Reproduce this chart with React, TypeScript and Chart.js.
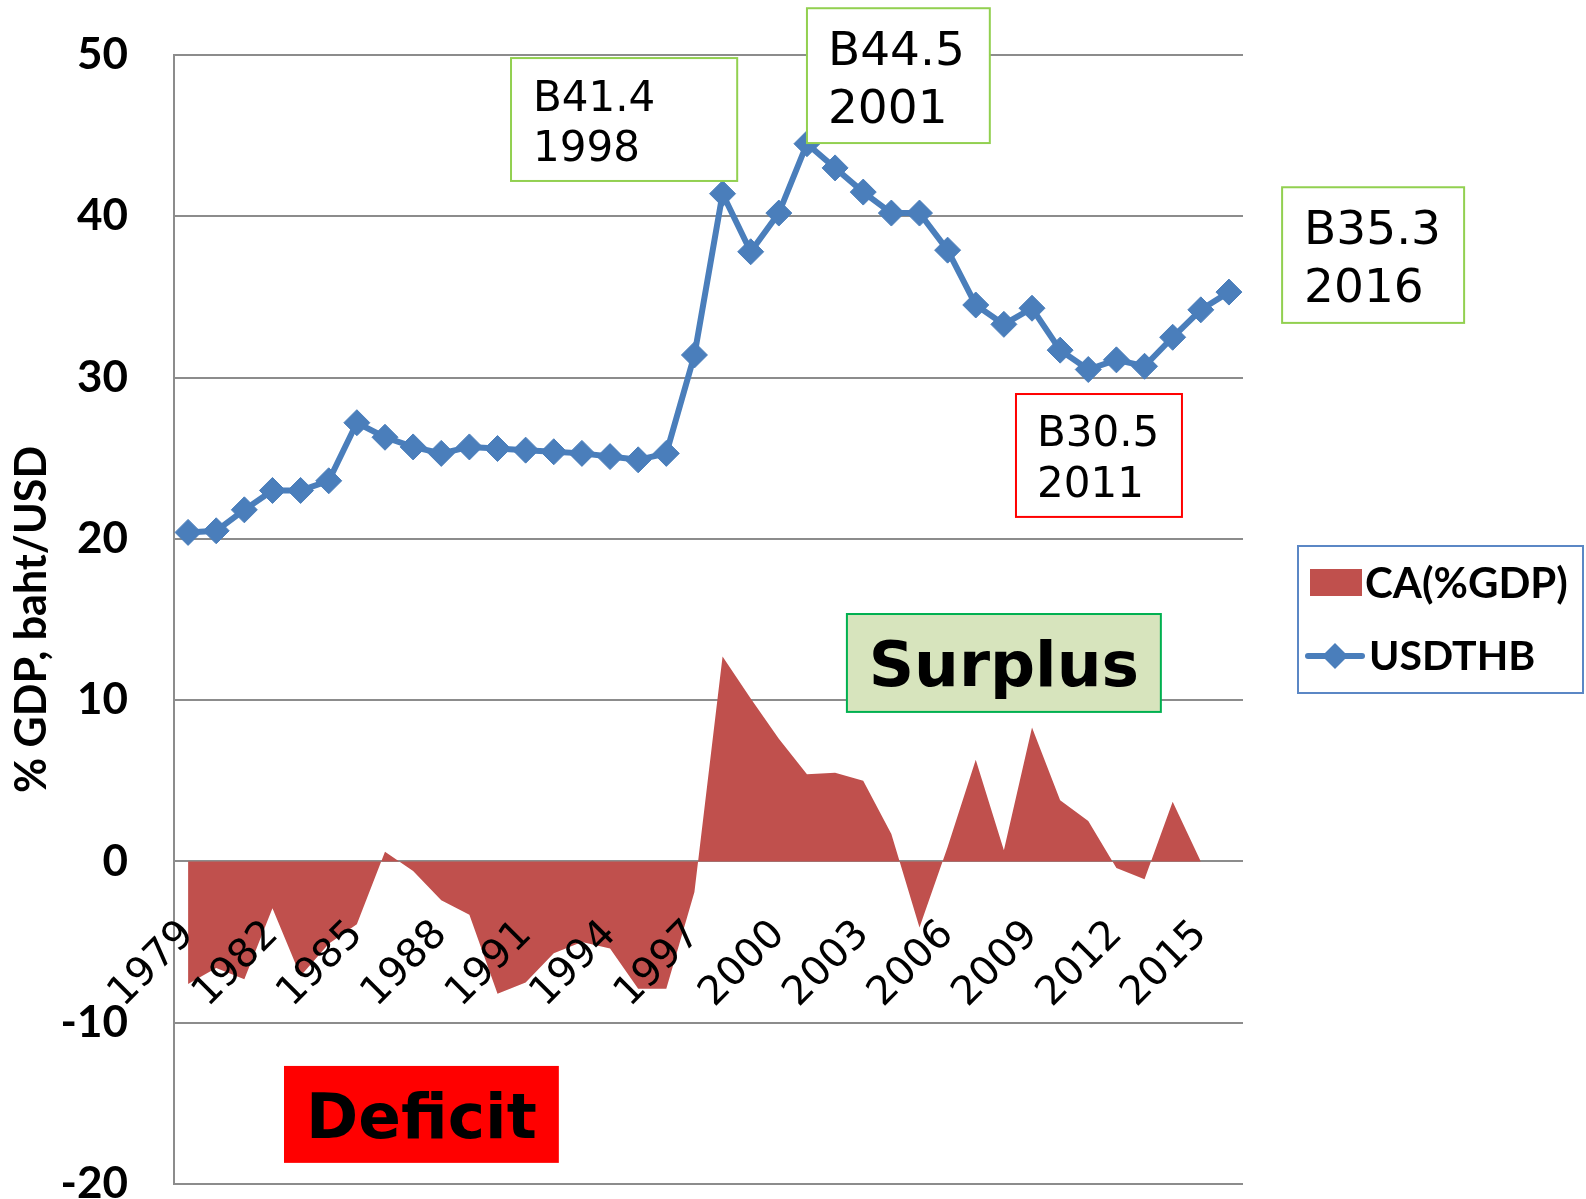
import React, { useEffect, useRef } from "react";
import { Chart, registerables } from "chart.js";

Chart.register(...registerables);

// ---------------- data ----------------
const years = [
  "1979", "1980", "1981", "1982", "1983", "1984", "1985", "1986", "1987", "1988",
  "1989", "1990", "1991", "1992", "1993", "1994", "1995", "1996", "1997", "1998",
  "1999", "2000", "2001", "2002", "2003", "2004", "2005", "2006", "2007", "2008",
  "2009", "2010", "2011", "2012", "2013", "2014", "2015", "2016",
];

const caPctGdp: (number | null)[] = [
  -7.6, -6.6, -7.3, -2.9, -7.1, -5.1, -3.9, 0.6, -0.6, -2.4,
  -3.3, -8.2, -7.5, -5.7, -5.0, -5.4, -7.9, -7.9, -1.9, 12.7,
  10.1, 7.6, 5.4, 5.5, 5.0, 1.7, -4.1, 0.9, 6.3, 0.7,
  8.3, 3.8, 2.5, -0.4, -1.1, 3.7, 0, null,
];

const usdThb: number[] = [
  20.4, 20.5, 21.8, 23.0, 23.0, 23.6, 27.2, 26.3, 25.7, 25.3,
  25.7, 25.6, 25.5, 25.4, 25.3, 25.1, 24.9, 25.3, 31.4, 41.4,
  37.8, 40.2, 44.5, 43.0, 41.5, 40.2, 40.2, 37.9, 34.5, 33.3,
  34.3, 31.7, 30.5, 31.1, 30.7, 32.5, 34.2, 35.3,
];

const seriesLabels = ["CA(%GDP)", "USDTHB"];
const yAxisTitle = "% GDP, baht/USD";
const yMin = -20;
const yMax = 50;
const yStep = 10;
const xLabelEvery = 3;

const annotationTexts: string[][] = [
  ["B41.4", "1998"],
  ["B44.5", "2001"],
  ["B35.3", "2016"],
  ["B30.5", "2011"],
  ["Surplus"],
  ["Deficit"],
];

// ---------------- styles / placement ----------------
const CA_COLOR = "#c0504d";
const LINE_COLOR = "#4a7ebb";
const GRID_COLOR = "#8c8c8c";

// boxes placed in data space: category index (fractional) and value
const annotationBoxes = [
  { i0: 11.48, i1: 19.52, v0: 49.81, v1: 42.19, fill: "#ffffff", stroke: "#92d050", font: "42px 'DejaVu Sans'", padX: 22, base: 53, gap: 50 },
  { i0: 22.0, i1: 28.5, v0: 52.9, v1: 44.54, fill: "#ffffff", stroke: "#92d050", font: "47px 'DejaVu Sans'", padX: 21, base: 57, gap: 58 },
  { i0: 38.89, i1: 45.36, v0: 41.8, v1: 33.39, fill: "#ffffff", stroke: "#92d050", font: "47px 'DejaVu Sans'", padX: 22, base: 57, gap: 58 },
  { i0: 29.43, i1: 35.33, v0: 28.98, v1: 21.36, fill: "#ffffff", stroke: "#ff0000", font: "42px 'DejaVu Sans'", padX: 21, base: 52, gap: 51 },
  { i0: 23.42, i1: 34.58, v0: 15.34, v1: 9.27, fill: "#d7e4bd", stroke: "#00b050", font: "bold 63px 'DejaVu Sans'", center: true },
  { i0: 3.41, i1: 13.18, v0: -12.68, v1: -18.69, fill: "#ff0000", stroke: null, font: "bold 63px 'DejaVu Sans'", center: true },
];

const legendBox = { x: 1298, y: 546, w: 285, h: 147 };

const overlayPlugin = {
  id: "overlay",
  afterDraw(chart: any) {
    const { ctx } = chart;
    const xs = chart.scales.x;
    const ys = chart.scales.y;
    ctx.save();
    annotationBoxes.forEach((b: any, k: number) => {
      const left = xs.getPixelForValue(b.i0);
      const right = xs.getPixelForValue(b.i1);
      const top = ys.getPixelForValue(b.v0);
      const bottom = ys.getPixelForValue(b.v1);
      ctx.fillStyle = b.fill;
      ctx.fillRect(left, top, right - left, bottom - top);
      if (b.stroke) {
        ctx.lineWidth = 2;
        ctx.strokeStyle = b.stroke;
        ctx.strokeRect(left, top, right - left, bottom - top);
      }
      ctx.fillStyle = "#000000";
      ctx.font = b.font;
      const lines = annotationTexts[k];
      if (b.center) {
        ctx.textAlign = "center";
        ctx.textBaseline = "middle";
        ctx.fillText(lines[0], (left + right) / 2, (top + bottom) / 2 + 7);
      } else {
        ctx.textAlign = "left";
        ctx.textBaseline = "alphabetic";
        lines.forEach((t, n) => {
          ctx.fillText(t, left + b.padX, top + b.base + n * b.gap);
        });
      }
    });

    // legend
    const L = legendBox;
    ctx.lineWidth = 2;
    ctx.strokeStyle = "#5b87c5";
    ctx.strokeRect(L.x, L.y, L.w, L.h);
    ctx.fillStyle = CA_COLOR;
    ctx.fillRect(L.x + 12, L.y + 23, 52, 27);
    ctx.font = "bold 42px Lato";
    ctx.fillStyle = "#000000";
    ctx.textAlign = "left";
    ctx.textBaseline = "middle";
    ctx.fillText(seriesLabels[0], L.x + 67, L.y + 38);
    const ly = L.y + 110;
    ctx.strokeStyle = LINE_COLOR;
    ctx.lineWidth = 6;
    ctx.lineCap = "round";
    ctx.beginPath();
    ctx.moveTo(L.x + 10, ly);
    ctx.lineTo(L.x + 64, ly);
    ctx.stroke();
    ctx.fillStyle = LINE_COLOR;
    ctx.beginPath();
    const cx = L.x + 37;
    ctx.moveTo(cx - 13, ly);
    ctx.lineTo(cx, ly - 13);
    ctx.lineTo(cx + 13, ly);
    ctx.lineTo(cx, ly + 13);
    ctx.closePath();
    ctx.fill();
    ctx.fillStyle = "#000000";
    ctx.font = "bold 41px Lato";
    ctx.fillText(seriesLabels[1], L.x + 71, ly + 1);
    ctx.restore();
  },
};

export default function App() {
  const canvasRef = useRef<HTMLCanvasElement | null>(null);

  useEffect(() => {
    const canvas = canvasRef.current;
    if (!canvas) return;
    const chart = new Chart(canvas, {
      type: "line",
      data: {
        labels: years,
        datasets: [
          {
            label: seriesLabels[0],
            data: caPctGdp,
            borderWidth: 0,
            borderColor: CA_COLOR,
            backgroundColor: CA_COLOR,
            fill: "origin",
            pointRadius: 0,
            tension: 0,
            order: 2,
          },
          {
            label: seriesLabels[1],
            data: usdThb,
            borderColor: LINE_COLOR,
            backgroundColor: LINE_COLOR,
            borderWidth: 6,
            fill: false,
            pointStyle: "rectRot",
            pointRadius: 13,
            pointHoverRadius: 13,
            pointBorderWidth: 1,
            pointBackgroundColor: LINE_COLOR,
            pointBorderColor: LINE_COLOR,
            tension: 0,
            order: 1,
          },
        ],
      },
      options: {
        responsive: false,
        animation: false,
        devicePixelRatio: 1,
        layout: { padding: { left: 0, top: 55, right: 343, bottom: 15 } },
        plugins: {
          legend: { display: false },
          tooltip: { enabled: false },
          title: { display: false },
        },
        scales: {
          x: {
            type: "category",
            offset: true,
            position: { y: 0 } as any,
            grid: { display: false, drawTicks: false },
            border: { display: false },
            ticks: {
              z: 1,
              autoSkip: false,
              minRotation: 45,
              maxRotation: 45,
              padding: 50,
              color: "#000000",
              font: { family: "'DejaVu Sans'", size: 40 },
              callback: (_v: any, idx: number) => (idx % xLabelEvery === 0 ? years[idx] : ""),
            },
          },
          y: {
            min: yMin,
            max: yMax,
            grid: { color: GRID_COLOR, lineWidth: 2, drawTicks: true, tickLength: 46, tickColor: "rgba(0,0,0,0)" },
            border: { display: true, color: GRID_COLOR, width: 2 },
            ticks: {
              stepSize: yStep,
              padding: 0,
              color: "#000000",
              font: { family: "Lato", size: 44, weight: "bold" },
            },
            title: {
              display: true,
              text: yAxisTitle,
              color: "#000000",
              font: { family: "Lato", size: 43, weight: "bold" },
              padding: { top: 6, bottom: 0 },
            },
            afterFit: (scale: any) => {
              scale.width = 174;
              scale.paddingTop = 0;
              scale.paddingBottom = 0;
            },
          },
        },
      },
      plugins: [overlayPlugin],
    });
    return () => chart.destroy();
  }, []);

  return (
    <div style={{ position: "absolute", left: 0, top: 0, width: 1586, height: 1199 }}>
      <canvas ref={canvasRef} width={1586} height={1199} style={{ display: "block" }} />
    </div>
  );
}
